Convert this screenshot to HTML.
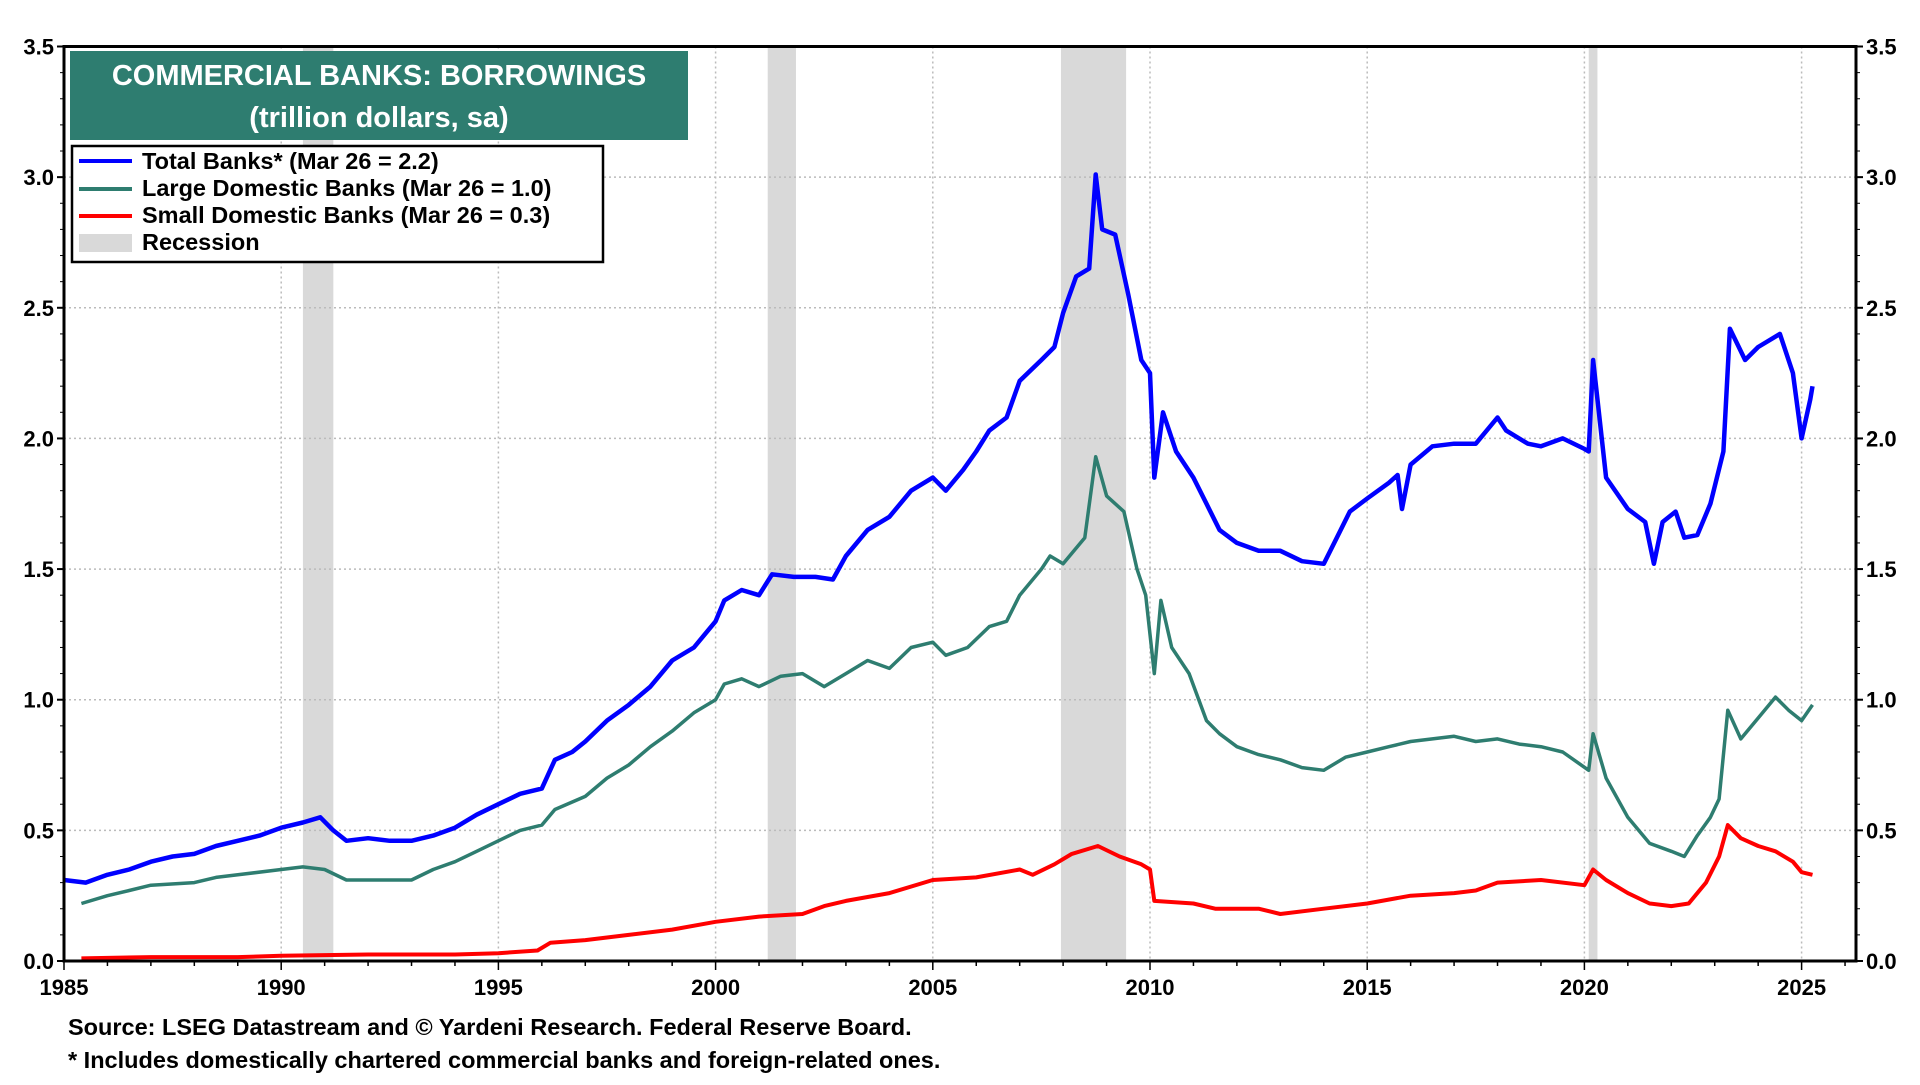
<!DOCTYPE html>
<html><head><meta charset="utf-8"><style>
body{margin:0;background:#fff;width:1920px;height:1080px;overflow:hidden;font-family:"Liberation Sans",Arial,sans-serif}
svg text{font-family:"Liberation Sans",Arial,sans-serif;font-weight:bold}
</style></head><body>
<svg id="chart" width="1920" height="1080" viewBox="0 0 1920 1080" xmlns="http://www.w3.org/2000/svg">
<g id="rec"></g><g id="grid"></g><g id="ticks"></g><g id="series"></g>
<rect x="64" y="46.5" width="1792" height="914.5" fill="none" stroke="#000" stroke-width="3"/>
<rect x="70" y="51" width="618" height="89" fill="#2e7d70"/>
<text x="379" y="85" fill="#fff" font-size="29" text-anchor="middle">COMMERCIAL BANKS: BORROWINGS</text>
<text x="379" y="127" fill="#fff" font-size="29" text-anchor="middle" font-weight="normal">(trillion dollars, sa)</text>
<g>
<rect x="72" y="146" width="531" height="116" fill="#fff" stroke="#000" stroke-width="2.5"/>
<line x1="79" y1="161" x2="132" y2="161" stroke="#0000ff" stroke-width="4"/>
<text x="142" y="169" font-size="23.5">Total Banks* (Mar 26 = 2.2)</text>
<line x1="79" y1="189" x2="132" y2="189" stroke="#2e7d70" stroke-width="4"/>
<text x="142" y="196" font-size="23.5">Large Domestic Banks (Mar 26 = 1.0)</text>
<line x1="79" y1="216" x2="132" y2="216" stroke="#ff0000" stroke-width="4"/>
<text x="142" y="223" font-size="23.5">Small Domestic Banks (Mar 26 = 0.3)</text>
<rect x="79" y="234" width="53" height="18" fill="#d9d9d9"/>
<text x="142" y="250" font-size="23.5">Recession</text>
</g>
<text x="68" y="1035" font-size="23.5">Source: LSEG Datastream and © Yardeni Research. Federal Reserve Board.</text>
<text x="68" y="1068" font-size="23.5">* Includes domestically chartered commercial banks and foreign-related ones.</text>
</svg>
<script>
const yTicks=[0,0.5,1.0,1.5,2.0,2.5,3.0,3.5];
const xTicks=[1985,1990,1995,2000,2005,2010,2015,2020,2025];
const recessions=[[1990.5,1991.2],[2001.2,2001.85],[2007.95,2009.45],[2020.1,2020.3]];
const totalX=[1985,1985.5,1986,1986.5,1987,1987.5,1988,1988.5,1989,1989.5,1990,1990.5,1990.9,1991.2,1991.5,1992,1992.5,1993,1993.5,1994,1994.5,1995,1995.5,1996,1996.3,1996.7,1997,1997.5,1998,1998.5,1999,1999.5,2000,2000.2,2000.6,2001,2001.3,2001.8,2002.3,2002.7,2003,2003.5,2004,2004.5,2005,2005.3,2005.7,2006,2006.3,2006.7,2007,2007.5,2007.8,2008,2008.3,2008.6,2008.75,2008.9,2009.2,2009.5,2009.8,2010,2010.1,2010.3,2010.6,2011,2011.3,2011.6,2012,2012.5,2013,2013.5,2014,2014.3,2014.6,2015,2015.5,2015.7,2015.8,2016,2016.5,2017,2017.5,2018,2018.2,2018.7,2019,2019.5,2020,2020.1,2020.2,2020.5,2021,2021.4,2021.6,2021.8,2022.1,2022.3,2022.6,2022.9,2023.2,2023.35,2023.7,2024,2024.5,2024.8,2025,2025.2,2025.25];
const totalV=[.31,.30,.33,.35,.38,.40,.41,.44,.46,.48,.51,.53,.55,.50,.46,.47,.46,.46,.48,.51,.56,.60,.64,.66,.77,.80,.84,.92,.98,1.05,1.15,1.20,1.30,1.38,1.42,1.40,1.48,1.47,1.47,1.46,1.55,1.65,1.70,1.80,1.85,1.80,1.88,1.95,2.03,2.08,2.22,2.30,2.35,2.48,2.62,2.65,3.01,2.80,2.78,2.55,2.30,2.25,1.85,2.10,1.95,1.85,1.75,1.65,1.60,1.57,1.57,1.53,1.52,1.62,1.72,1.77,1.83,1.86,1.73,1.90,1.97,1.98,1.98,2.08,2.03,1.98,1.97,2.00,1.96,1.95,2.30,1.85,1.73,1.68,1.52,1.68,1.72,1.62,1.63,1.75,1.95,2.42,2.30,2.35,2.40,2.25,2.00,2.15,2.20];
const largeX=[1985.4,1986,1986.5,1987,1988,1988.5,1989,1990,1990.5,1991,1991.5,1992,1993,1993.5,1994,1994.5,1995,1995.5,1996,1996.3,1997,1997.5,1998,1998.5,1999,1999.5,2000,2000.2,2000.6,2001,2001.5,2002,2002.5,2003,2003.5,2004,2004.5,2005,2005.3,2005.8,2006.3,2006.7,2007,2007.5,2007.7,2008,2008.5,2008.75,2009,2009.4,2009.7,2009.9,2010.1,2010.25,2010.5,2010.9,2011.3,2011.6,2012,2012.5,2013,2013.5,2014,2014.5,2015,2015.5,2016,2016.5,2017,2017.5,2018,2018.5,2019,2019.5,2020.1,2020.2,2020.5,2021,2021.5,2022,2022.3,2022.6,2022.9,2023.1,2023.3,2023.6,2024,2024.4,2024.7,2025,2025.25];
const largeV=[.22,.25,.27,.29,.30,.32,.33,.35,.36,.35,.31,.31,.31,.35,.38,.42,.46,.50,.52,.58,.63,.70,.75,.82,.88,.95,1.00,1.06,1.08,1.05,1.09,1.10,1.05,1.10,1.15,1.12,1.20,1.22,1.17,1.20,1.28,1.30,1.40,1.50,1.55,1.52,1.62,1.93,1.78,1.72,1.50,1.40,1.10,1.38,1.20,1.10,.92,.87,.82,.79,.77,.74,.73,.78,.80,.82,.84,.85,.86,.84,.85,.83,.82,.80,.73,.87,.70,.55,.45,.42,.40,.48,.55,.62,.96,.85,.93,1.01,.96,.92,.98];
const smallX=[1985.4,1987,1989,1990,1992,1994,1995,1995.9,1996.2,1997,1997.5,1998,1999,2000,2001,2002,2002.5,2003,2004,2005,2006,2007,2007.3,2007.8,2008.2,2008.8,2009.3,2009.8,2010,2010.1,2011,2011.5,2012.5,2013,2014,2015,2016,2017,2017.5,2018,2019,2020,2020.2,2020.5,2021,2021.5,2022,2022.4,2022.8,2023.1,2023.3,2023.6,2024,2024.4,2024.8,2025,2025.25];
const smallV=[.01,.015,.015,.02,.025,.025,.03,.04,.07,.08,.09,.10,.12,.15,.17,.18,.21,.23,.26,.31,.32,.35,.33,.37,.41,.44,.40,.37,.35,.23,.22,.20,.20,.18,.20,.22,.25,.26,.27,.30,.31,.29,.35,.31,.26,.22,.21,.22,.30,.40,.52,.47,.44,.42,.38,.34,.33];
const L=64,R=1856,T=46.5,B=961;
const xs=y=>L+(y-1985)*43.44;
const ys=v=>B-v*(B-T)/3.5;
const NS='http://www.w3.org/2000/svg';
function mk(tag,parent,attrs){const e=document.createElementNS(NS,tag);for(const k in attrs)e.setAttribute(k,attrs[k]);document.getElementById(parent).appendChild(e);return e;}
recessions.forEach(r=>{const e=mk('rect','rec',{x:xs(r[0]),y:T,width:xs(r[1])-xs(r[0]),height:B-T,fill:'#d9d9d9'});

});
yTicks.forEach(v=>{
 if(v>0&&v<3.5){const g=mk('line','grid',{x1:L,x2:R,y1:ys(v),y2:ys(v),stroke:'#bbb','stroke-width':1.5,'stroke-dasharray':'2,3'});
 
 }
 [[L-10,'end'],[R+10,'start']].forEach(p=>{const t=mk('text','ticks',{x:p[0],y:ys(v)+8,'font-size':22,'text-anchor':p[1]});t.textContent=v.toFixed(1);
 
 });
 mk('line','ticks',{x1:L-7,x2:L,y1:ys(v),y2:ys(v),stroke:'#000','stroke-width':2});
 mk('line','ticks',{x1:R,x2:R+7,y1:ys(v),y2:ys(v),stroke:'#000','stroke-width':2});
});
for(let v=0.1;v<3.5;v+=0.1){mk('line','ticks',{x1:L-4,x2:L,y1:ys(v),y2:ys(v),stroke:'#000','stroke-width':1});mk('line','ticks',{x1:R,x2:R+4,y1:ys(v),y2:ys(v),stroke:'#000','stroke-width':1});}
for(let y=1985;y<=2026;y++)mk('line','ticks',{x1:xs(y),x2:xs(y),y1:B,y2:B+(y%5?5:9),stroke:'#000','stroke-width':1.5});
xTicks.forEach(y=>{
 if(y>1985){const g=mk('line','grid',{x1:xs(y),x2:xs(y),y1:T,y2:B,stroke:'#bbb','stroke-width':1.5,'stroke-dasharray':'2,3'});
 
 }
 const t=mk('text','ticks',{x:xs(y),y:B+34,'font-size':22,'text-anchor':'middle'});t.textContent=y;
 
 
});
function line(X,V,color,w,name){const d=X.map((x,i)=>(i?'L':'M')+xs(x).toFixed(1)+','+ys(V[i]).toFixed(1)).join('');
 const p=mk('path','series',{d:d,fill:'none',stroke:color,'stroke-width':w,'stroke-linejoin':'round'});
 
 }
line(smallX,smallV,'#ff0000',4,'small-banks-line');
line(largeX,largeV,'#2e7d70',3.5,'large-banks-line');
line(totalX,totalV,'#0000ff',4.5,'total-banks-line');
</script>
</body></html>
